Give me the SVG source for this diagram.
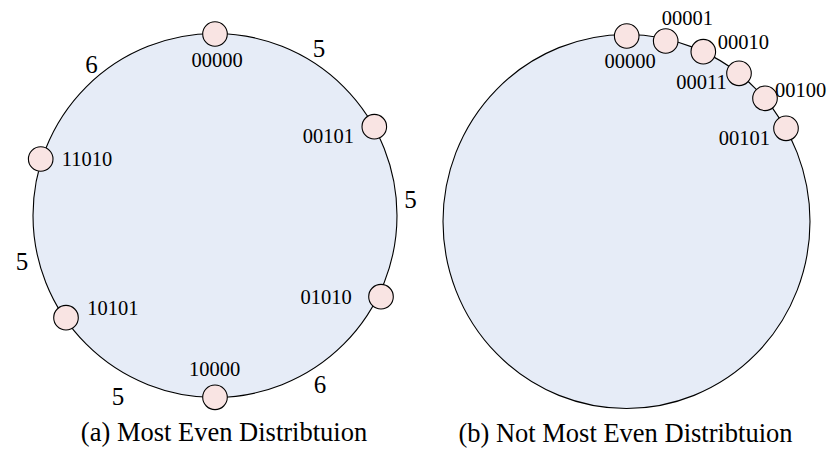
<svg xmlns="http://www.w3.org/2000/svg" width="829" height="451" viewBox="0 0 829 451">
<style>
.ring{fill:#E6ECF7;stroke:#000;stroke-width:1.1}
.node{fill:#F9E4E3;stroke:#000;stroke-width:1.1}
.lbl{font-family:"Liberation Serif","Times New Roman",serif;font-size:20.5px;fill:#000}
.w{font-family:"Liberation Serif","Times New Roman",serif;font-size:25px;fill:#000;text-anchor:middle}
.cap{font-family:"Liberation Serif","Times New Roman",serif;font-size:26.5px;fill:#000;text-anchor:middle}
</style>
<rect width="829" height="451" fill="#fff"/>
<g id="rings">
<circle class="ring" cx="215" cy="215.5" r="182"/>
<ellipse class="ring" cx="626.5" cy="221.5" rx="183.5" ry="187"/>
</g>
<g id="weights">
<text class="w" x="319" y="57">5</text>
<text class="w" x="91.5" y="73">6</text>
<text class="w" x="410.5" y="208">5</text>
<text class="w" x="22" y="270">5</text>
<text class="w" x="320" y="393">6</text>
<text class="w" x="118" y="405">5</text>
</g>
<g id="a-00000"><circle class="node" cx="215" cy="34" r="12.3"/><text class="lbl" x="217" y="66.5" text-anchor="middle">00000</text></g>
<g id="a-00101"><circle class="node" cx="374.3" cy="126.7" r="12.3"/><text class="lbl" x="354" y="143" text-anchor="end">00101</text></g>
<g id="a-01010"><circle class="node" cx="381" cy="296.7" r="12.3"/><text class="lbl" x="351.7" y="304" text-anchor="end">01010</text></g>
<g id="a-10000"><circle class="node" cx="215" cy="397.3" r="12.3"/><text class="lbl" x="214.7" y="376" text-anchor="middle">10000</text></g>
<g id="a-10101"><circle class="node" cx="66" cy="317.7" r="12.3"/><text class="lbl" x="87.3" y="315">10101</text></g>
<g id="a-11010"><circle class="node" cx="40.7" cy="159" r="12.3"/><text class="lbl" x="61.7" y="165.7">11010</text></g>
<g id="b-00000"><circle class="node" cx="626.7" cy="36" r="12.3"/><text class="lbl" x="630" y="68" text-anchor="middle">00000</text></g>
<g id="b-00001"><circle class="node" cx="665.7" cy="41" r="12.3"/><text class="lbl" x="661.7" y="25">00001</text></g>
<g id="b-00010"><circle class="node" cx="703.3" cy="51.7" r="12.3"/><text class="lbl" x="717.7" y="49.3">00010</text></g>
<g id="b-00011"><circle class="node" cx="739" cy="73.3" r="12.3"/><text class="lbl" x="726.7" y="89.3" text-anchor="end">00011</text></g>
<g id="b-00100"><circle class="node" cx="765" cy="98.3" r="12.3"/><text class="lbl" x="775" y="97.3">00100</text></g>
<g id="b-00101"><circle class="node" cx="786" cy="128.3" r="12.3"/><text class="lbl" x="770" y="145" text-anchor="end">00101</text></g>
<g id="captions">
<text class="cap" x="224" y="441">(a) Most Even Distribtuion</text>
<text class="cap" x="625.5" y="442">(b) Not Most Even Distribtuion</text>
</g>
</svg>
